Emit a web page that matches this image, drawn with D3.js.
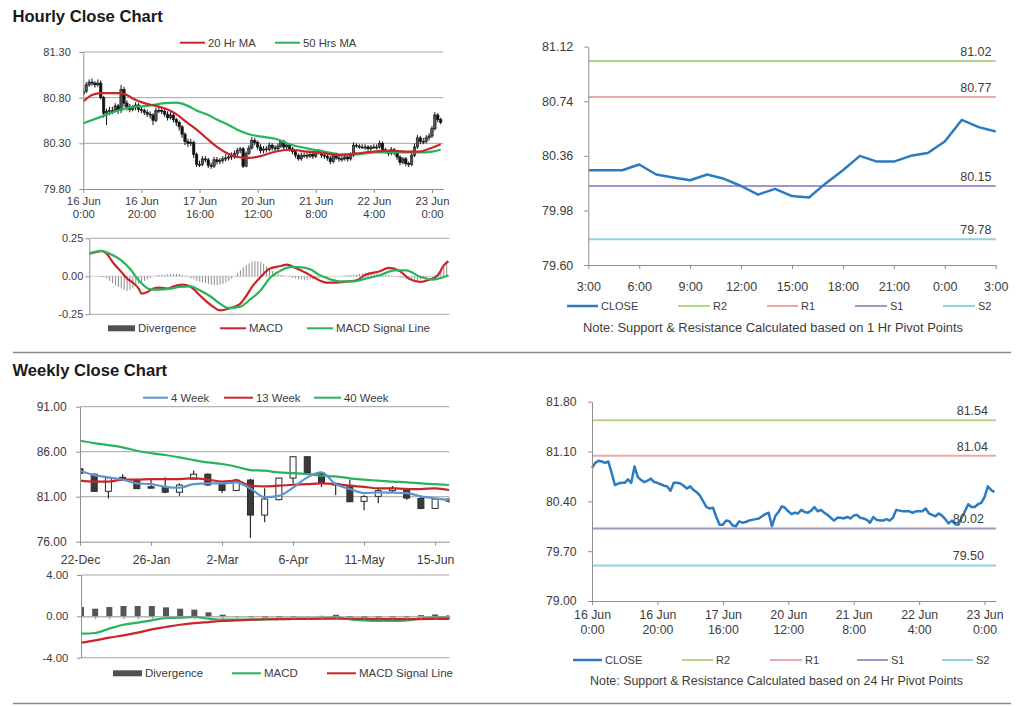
<!DOCTYPE html>
<html><head><meta charset="utf-8">
<script src="https://cdn.jsdelivr.net/npm/d3@7"></script>
<style>body{margin:0;background:#fff}svg{font-family:"Liberation Sans",Arial,sans-serif;display:block}</style>
</head><body><svg id="c" width="1024" height="706"></svg>
<script>
// ---------------- DATA ----------------
const hourlyOpen = [80.84,80.87,80.94,80.97,80.96,80.94,80.96,80.80,80.63,80.65,
80.66,80.66,80.71,80.66,80.89,80.74,80.70,80.67,80.69,80.72,
80.67,80.66,80.64,80.62,80.61,80.55,80.66,80.66,80.65,80.62,
80.58,80.61,80.56,80.53,80.48,80.40,80.32,80.30,80.31,80.18,
80.07,80.07,80.13,80.12,80.06,80.05,80.12,80.10,80.11,80.13,
80.14,80.15,80.16,80.19,80.22,80.24,80.05,80.19,80.25,80.33,
80.31,80.26,80.22,80.24,80.23,80.28,80.25,80.24,80.27,80.32,
80.26,80.28,80.24,80.21,80.17,80.13,80.17,80.17,80.16,80.18,
80.16,80.20,80.21,80.17,80.16,80.14,80.10,80.18,80.14,80.13,
80.13,80.15,80.13,80.17,80.28,80.27,80.26,80.26,80.26,80.24,
80.26,80.26,80.26,80.30,80.23,80.21,80.19,80.23,80.20,80.15,
80.09,80.13,80.08,80.07,80.17,80.26,80.36,80.32,80.32,80.36,
80.38,80.46,80.61,80.56];
const hourlyHigh = [80.90,80.97,81.00,81.01,80.98,81.00,80.99,80.82,80.68,80.70,
80.70,80.74,80.73,80.94,80.92,80.77,80.73,80.72,80.75,80.74,
80.70,80.68,80.67,80.65,80.63,80.69,80.70,80.69,80.68,80.65,
80.64,80.63,80.58,80.55,80.50,80.42,80.35,80.35,80.33,80.20,
80.11,80.16,80.16,80.14,80.09,80.15,80.15,80.14,80.16,80.18,
80.18,80.20,80.22,80.25,80.26,80.26,80.21,80.28,80.37,80.36,
80.33,80.29,80.27,80.27,80.31,80.30,80.28,80.30,80.34,80.34,
80.31,80.30,80.26,80.23,80.19,80.20,80.20,80.20,80.21,80.20,
80.23,80.24,80.23,80.20,80.18,80.16,80.20,80.20,80.17,80.16,
80.18,80.17,80.20,80.31,80.30,80.29,80.29,80.29,80.28,80.28,
80.29,80.29,80.33,80.32,80.25,80.23,80.26,80.25,80.22,80.17,
80.15,80.15,80.10,80.20,80.30,80.39,80.38,80.36,80.39,80.41,
80.49,80.64,80.63,80.58];
const hourlyLow = [80.82,80.85,80.92,80.93,80.91,80.92,80.78,80.58,80.50,80.61,
80.62,80.64,80.62,80.63,80.70,80.66,80.64,80.65,80.66,80.64,
80.63,80.61,80.59,80.57,80.50,80.53,80.63,80.62,80.59,80.55,
80.56,80.53,80.49,80.44,80.36,80.28,80.26,80.27,80.14,80.04,
80.04,80.05,80.09,80.03,80.02,80.03,80.07,80.07,80.08,80.10,
80.11,80.12,80.13,80.16,80.19,80.03,80.04,80.17,80.23,80.28,
80.23,80.19,80.19,80.20,80.21,80.22,80.21,80.22,80.25,80.23,
80.24,80.21,80.18,80.14,80.11,80.11,80.14,80.13,80.14,80.13,
80.14,80.18,80.14,80.13,80.11,80.07,80.08,80.12,80.10,80.10,
80.11,80.10,80.11,80.15,80.25,80.24,80.24,80.23,80.22,80.22,
80.24,80.23,80.24,80.21,80.19,80.16,80.17,80.17,80.12,80.06,
80.07,80.05,80.04,80.05,80.15,80.24,80.29,80.29,80.30,80.33,
80.36,80.44,80.53,80.51];
const hourlyClose = [80.87,80.94,80.97,80.96,80.94,80.96,80.80,80.63,80.65,80.66,
80.66,80.71,80.66,80.89,80.74,80.70,80.67,80.69,80.72,80.67,
80.66,80.64,80.62,80.61,80.55,80.66,80.66,80.65,80.62,80.58,
80.61,80.56,80.53,80.48,80.40,80.32,80.30,80.31,80.18,80.07,
80.07,80.13,80.12,80.06,80.05,80.12,80.10,80.11,80.13,80.14,
80.15,80.16,80.19,80.22,80.24,80.05,80.19,80.25,80.33,80.31,
80.26,80.22,80.24,80.23,80.28,80.25,80.24,80.27,80.32,80.26,
80.28,80.24,80.21,80.17,80.13,80.17,80.17,80.16,80.18,80.16,
80.20,80.21,80.17,80.16,80.14,80.10,80.18,80.14,80.13,80.13,
80.15,80.13,80.17,80.28,80.27,80.26,80.26,80.26,80.24,80.26,
80.26,80.26,80.30,80.23,80.21,80.19,80.23,80.20,80.15,80.09,
80.13,80.08,80.07,80.17,80.26,80.36,80.32,80.32,80.36,80.38,
80.46,80.61,80.56,80.53];
// moving averages read at [hour index, value]
const ma20Hr = [[0,80.76],[3,80.83],[6,80.85],[10,80.85],[13,80.85],[15,80.83],[17,80.79],[21,80.74],[25,80.71],[29,80.67],[32,80.62],[36,80.52],[39,80.45],[43,80.34],[46,80.26],[49,80.20],[53,80.15],[57,80.14],[61,80.16],[65,80.20],[71,80.23],[77,80.21],[83,80.19],[88,80.17],[94,80.19],[100,80.21],[106,80.22],[111,80.21],[116,80.21],[119,80.24],[123,80.29]];
const ma50Hr = [[0,80.52],[6,80.59],[12,80.66],[17,80.70],[22,80.71],[28,80.74],[32,80.745],[36,80.71],[39,80.66],[43,80.61],[46,80.56],[50,80.50],[53,80.45],[57,80.40],[62,80.37],[66,80.35],[71,80.29],[77,80.245],[83,80.21],[88,80.18],[94,80.18],[100,80.20],[106,80.20],[111,80.20],[116,80.20],[120,80.21],[123,80.23]];
const hourlyMacd = [[0,0.149],[3,0.162],[4,0.167],[6,0.149],[8,0.094],[11,0.029],[13,-0.015],[15,-0.042],[17,-0.081],[18,-0.114],[20,-0.103],[22,-0.081],[24,-0.075],[27,-0.081],[29,-0.066],[32,-0.055],[35,-0.070],[38,-0.125],[42,-0.191],[45,-0.224],[48,-0.213],[50,-0.200],[52,-0.180],[54,-0.130],[56,-0.070],[59,-0.004],[62,0.050],[66,0.068],[68,0.077],[71,0.055],[75,0.018],[78,-0.015],[82,-0.042],[85,-0.042],[89,-0.033],[92,-0.026],[95,0.011],[100,0.033],[103,0.055],[107,0.033],[110,-0.015],[114,-0.037],[117,-0.022],[120,0.007],[122,0.072],[123.6,0.099]];
const hourlySignal = [[0,0.149],[4,0.167],[7,0.149],[11,0.105],[14,0.050],[17,-0.026],[21,-0.086],[24,-0.088],[28,-0.081],[31,-0.070],[35,-0.066],[38,-0.092],[42,-0.136],[45,-0.180],[48,-0.208],[52,-0.200],[55,-0.158],[59,-0.092],[62,-0.015],[66,0.039],[69,0.061],[72,0.061],[76,0.046],[79,0.011],[83,-0.020],[86,-0.033],[91,-0.033],[95,-0.015],[100,0.007],[105,0.039],[109,0.039],[114,-0.004],[118,-0.022],[123.6,0.007]];
const hourlyDivergence = [0.000,0.000,0.000,-0.003,-0.005,-0.008,-0.015,-0.030,-0.045,-0.060,
-0.070,-0.080,-0.090,-0.095,-0.090,-0.080,-0.065,-0.050,-0.040,-0.030,
-0.020,-0.010,0.000,0.005,0.010,0.010,0.010,0.015,0.015,0.015,
0.015,0.015,0.010,0.005,-0.005,-0.015,-0.020,-0.030,-0.035,-0.040,
-0.045,-0.050,-0.055,-0.058,-0.058,-0.055,-0.050,-0.040,-0.030,-0.015,
0.000,0.020,0.040,0.060,0.075,0.085,0.095,0.100,0.100,0.095,
0.080,0.065,0.050,0.035,0.025,0.015,0.010,0.005,0.000,-0.005,
-0.010,-0.015,-0.020,-0.020,-0.025,-0.025,-0.020,-0.020,-0.015,-0.010,
-0.008,-0.005,-0.003,0.000,0.000,0.000,0.000,0.002,0.004,0.006,
0.008,0.010,0.012,0.015,0.018,0.020,0.022,0.022,0.020,0.020,
0.018,0.015,0.012,0.008,0.004,0.000,-0.005,-0.010,-0.015,-0.020,
-0.025,-0.030,-0.030,-0.025,-0.020,-0.015,-0.010,-0.005,0.000,0.010,
0.025,0.040,0.060,0.080];
const hourTickIdx = [0,20,40,60,80,100,120];
const hourTickLabels = [["16 Jun","0:00"],["16 Jun","20:00"],["17 Jun","16:00"],["20 Jun","12:00"],["21 Jun","8:00"],["22 Jun","4:00"],["23 Jun","0:00"]];
const hourlyYTicks = [79.80,80.30,80.80,81.30];
const macdYTicks = [-0.25,0,0.25];
const recentStart = 99; // 22 Jun 3:00
const recentTickLabels = ["3:00","6:00","9:00","12:00","15:00","18:00","21:00","0:00","3:00"];
const recentYTicks = [79.60,79.98,80.36,80.74,81.12];
const dayYTicks = [79.00,79.70,80.40,81.10,81.80];
const pivotNames = ["R2","R1","S1","S2"];
const pivot1Hr = [81.02,80.77,80.15,79.78];
const pivot24Hr = [81.54,81.04,80.02,79.50];

const weekTickLabels = ["22-Dec","26-Jan","2-Mar","6-Apr","11-May","15-Jun"];
const weekOpen  = [84.10,83.50,81.60,83.15,82.80,82.10,82.10,81.50,82.96,83.50,82.40,81.70,82.85,78.96,80.67,83.07,85.44,83.63,82.48,82.15,80.48,81.04,81.67,81.85,80.80,79.70,80.74];
const weekHigh  = [84.20,83.60,83.20,83.50,83.00,82.85,83.15,82.50,83.90,83.60,82.50,83.00,83.00,81.93,83.10,85.50,85.50,83.70,82.55,82.90,81.20,81.85,82.20,82.00,81.10,80.80,80.90];
const weekLow   = [83.60,81.55,80.80,82.75,81.85,81.90,81.37,81.10,82.90,82.20,81.40,81.60,76.40,78.15,80.60,82.48,83.50,82.04,81.19,80.40,79.50,80.26,81.50,80.67,79.60,79.70,80.30];
const weekClose = [83.60,81.60,83.10,82.80,81.90,81.95,81.50,82.30,83.50,82.30,81.70,82.85,78.96,80.74,83.07,85.44,83.63,82.48,82.30,80.44,81.00,81.67,81.96,80.85,79.70,80.74,80.50];
const ma4Week  = [83.89,83.40,83.15,82.90,82.48,82.40,82.10,82.00,82.40,82.48,82.48,82.60,81.90,80.95,81.10,82.00,83.15,83.70,82.40,81.85,81.40,81.48,81.45,81.40,81.04,80.81,80.63];
const ma13Week = [82.78,82.67,82.67,82.90,82.90,82.96,82.96,82.96,83.04,82.90,82.67,82.78,82.22,82.15,82.22,82.33,82.40,82.48,82.40,82.22,82.10,81.93,81.93,81.85,81.85,81.93,81.74];
const ma40Week = [87.22,86.96,86.74,86.48,86.11,85.85,85.63,85.37,85.07,84.81,84.63,84.33,83.96,83.89,83.70,83.63,83.52,83.33,83.26,83.04,82.90,82.78,82.67,82.60,82.48,82.40,82.30];
const weekYTicks = [76,81,86,91];
const weekMacdYTicks = [-4,0,4];
const weekDivergence = [0.90,0.74,0.90,1.00,1.00,1.00,0.87,0.74,0.65,0.39,0.16,0.03,-0.05,-0.10,-0.10,-0.05,0.00,0.05,0.15,-0.10,-0.12,-0.12,-0.10,-0.08,0.12,0.18,0.10];
const weekMacd   = [-1.68,-1.61,-1.19,-0.81,-0.61,-0.39,-0.16,-0.13,-0.06,-0.23,-0.32,-0.32,-0.32,-0.30,-0.28,-0.25,-0.22,-0.20,-0.10,-0.30,-0.40,-0.45,-0.45,-0.40,-0.20,-0.10,-0.10];
const weekSignal = [-2.55,-2.32,-2.06,-1.84,-1.58,-1.26,-1.03,-0.81,-0.65,-0.55,-0.45,-0.39,-0.32,-0.28,-0.26,-0.25,-0.24,-0.23,-0.23,-0.23,-0.25,-0.26,-0.27,-0.27,-0.26,-0.25,-0.24];

// ---------------- STYLE ----------------
const TXT="#3c3c3c", AX="#8f8f8f", GRID="#a3a3a3";
const RED="#c8262b", GREEN="#27b45b", BLUE="#2a7bc0", WBLUE="#5f94cf";
const pivotColors=["#b5d48c","#eaa9a9","#a793c6","#92d0e2"];
const svg=d3.select("#c");
const defs=svg.append("defs");
function clip(id,x0,y0,x1,y1){defs.append("clipPath").attr("id",id).append("rect").attr("x",x0).attr("y",y0).attr("width",x1-x0).attr("height",y1-y0);}

function styleAxis(g,fs){
  g.attr("font-family",null).attr("font-size",null);
  g.select(".domain").attr("stroke",AX);
  g.selectAll(".tick line").attr("stroke",AX);
  g.selectAll(".tick text").attr("fill",TXT).style("font-size",fs+"px");
}
function yAxis(x0,y,ticks,fmt,pad,fs){
  const g=svg.append("g").attr("transform",`translate(${x0},0)`)
    .call(d3.axisLeft(y).tickValues(ticks).tickFormat(fmt).tickSize(4).tickSizeOuter(0).tickPadding(pad));
  styleAxis(g,fs);return g;
}
function xAxis(y0,x,ticks,labels,pad,fs,lh){
  const g=svg.append("g").attr("transform",`translate(0,${y0})`)
    .call(d3.axisBottom(x).tickValues(ticks).tickFormat(()=>"").tickSize(4).tickSizeOuter(0).tickPadding(pad));
  styleAxis(g,fs);
  g.selectAll(".tick text").each(function(d,i){
    const t=d3.select(this), lab=labels[i];
    if(Array.isArray(lab)){
      t.append("tspan").attr("x",0).attr("dy","0em").text(lab[0]);
      t.append("tspan").attr("x",0).attr("dy",lh+"em").text(lab[1]);
    } else t.text(lab);
  });
  return g;
}
function grid(x1,x2,y,ticks){
  svg.append("g").selectAll("line").data(ticks).join("line")
   .attr("x1",x1).attr("x2",x2).attr("y1",d=>y(d)).attr("y2",d=>y(d)).attr("stroke",GRID).attr("stroke-width",1);
}
function legLine(x1,x2,y,color,w,label,fs){
  svg.append("line").attr("x1",x1).attr("x2",x2).attr("y1",y).attr("y2",y).attr("stroke",color).attr("stroke-width",w);
  svg.append("text").attr("x",x2+3).attr("y",y).attr("dy","0.35em").attr("fill",TXT).style("font-size",fs+"px").text(label);
}
function legBar(x1,x2,y,label,fs){
  svg.append("rect").attr("x",x1).attr("y",y-3).attr("width",x2-x1).attr("height",6).attr("fill","#505050");
  svg.append("text").attr("x",x2+3).attr("y",y).attr("dy","0.35em").attr("fill",TXT).style("font-size",fs+"px").text(label);
}
const f2=d=>(+d).toFixed(2);

// ---------------- TITLES / SEPARATORS ----------------
svg.append("text").attr("x",12.5).attr("y",21.5).attr("font-weight","bold").style("font-size","16.6px").attr("fill","#1a1a1a").text("Hourly Close Chart");
svg.append("text").attr("x",12.5).attr("y",375.5).attr("font-weight","bold").style("font-size","16.6px").attr("fill","#1a1a1a").text("Weekly Close Chart");
svg.append("line").attr("x1",13).attr("x2",1011).attr("y1",352.5).attr("y2",352.5).attr("stroke","#8a8a8a").attr("stroke-width",1.5);
svg.append("line").attr("x1",13).attr("x2",1011).attr("y1",703.5).attr("y2",703.5).attr("stroke","#8a8a8a").attr("stroke-width",1.5);

// ---------------- PANEL A: hourly candles ----------------
const xA=d3.scaleLinear().domain([0,123.9]).range([83.3,443.3]);
const yA=d3.scaleLinear().domain([79.8,81.3]).range([189,52]);
grid(83.3,443.3,yA,hourlyYTicks.slice(1));
clip("clipA",83.3,52,443.3,189);
const gA=svg.append("g").attr("clip-path","url(#clipA)");
const hIdx=d3.range(hourlyClose.length);
gA.selectAll("line.w").data(hIdx).join("line").attr("class","w")
  .attr("x1",i=>xA(i)).attr("x2",i=>xA(i)).attr("y1",i=>yA(hourlyHigh[i])).attr("y2",i=>yA(hourlyLow[i]))
  .attr("stroke","#111").attr("stroke-width",1);
gA.selectAll("rect.b").data(hIdx).join("rect").attr("class","b")
  .attr("x",i=>xA(i)-1.2).attr("width",2.4)
  .attr("y",i=>yA(Math.max(hourlyOpen[i],hourlyClose[i])))
  .attr("height",i=>Math.max(1,Math.abs(yA(hourlyOpen[i])-yA(hourlyClose[i]))))
  .attr("fill",i=>hourlyClose[i]>=hourlyOpen[i]?"#555":"#111").attr("stroke","#111").attr("stroke-width",0.6);
const lineA=d3.line().x(d=>xA(d[0])).y(d=>yA(d[1])).curve(d3.curveMonotoneX);
gA.append("path").attr("d",lineA(ma50Hr)).attr("fill","none").attr("stroke",GREEN).attr("stroke-width",2.2);
gA.append("path").attr("d",lineA(ma20Hr)).attr("fill","none").attr("stroke",RED).attr("stroke-width",2.2);
yAxis(83.3,yA,hourlyYTicks,f2,8.5,11);
xAxis(189,xA,hourTickIdx,hourTickLabels,12,11.3,1.12);
legLine(180,205,42.7,RED,2,"20 Hr MA",11.3);
legLine(275,300,42.7,GREEN,2,"50 Hrs MA",11.3);

// ---------------- PANEL B: hourly MACD ----------------
const xB=d3.scaleLinear().domain([0,123.9]).range([89.3,449.3]);
const yB=d3.scaleLinear().domain([-0.25,0.25]).range([314.3,238.3]);
grid(89.3,449.3,yB,[0.25,-0.25]);
svg.append("line").attr("x1",89.3).attr("x2",449.3).attr("y1",yB(0)).attr("y2",yB(0)).attr("stroke","#c8c8c8").attr("stroke-width",0.8);
clip("clipB",89.3,238,449.3,315);
const gB=svg.append("g").attr("clip-path","url(#clipB)");
gB.selectAll("line").data(hourlyDivergence).join("line")
  .attr("x1",(d,i)=>xB(i)).attr("x2",(d,i)=>xB(i)).attr("y1",yB(0)).attr("y2",d=>yB(d))
  .attr("stroke","#8c8c8c").attr("stroke-width",1);
const lineB=d3.line().x(d=>xB(d[0])).y(d=>yB(d[1])).curve(d3.curveMonotoneX);
gB.append("path").attr("d",lineB(hourlyMacd)).attr("fill","none").attr("stroke",RED).attr("stroke-width",2.2);
gB.append("path").attr("d",lineB(hourlySignal)).attr("fill","none").attr("stroke",GREEN).attr("stroke-width",2.2);
yAxis(89.3,yB,macdYTicks,f2,2,11);
legBar(108,135,328.3,"Divergence",11.5);
legLine(220,246,328.3,RED,2,"MACD",11.5);
legLine(307,333,328.3,GREEN,2,"MACD Signal Line",11.5);

// ---------------- PANEL C: last 24 hours close + 1hr pivots ----------------
const recent=hourlyClose.slice(recentStart);
const xC=d3.scaleLinear().domain([0,24]).range([588.3,995.7]);
const yC=d3.scaleLinear().domain([79.60,81.12]).range([265,46.7]);
pivot1Hr.forEach((p,k)=>{
  svg.append("line").attr("x1",588.3).attr("x2",995.7).attr("y1",yC(p)).attr("y2",yC(p)).attr("stroke",pivotColors[k]).attr("stroke-width",2);
  svg.append("text").attr("x",991.5).attr("y",yC(p)-5).attr("text-anchor","end").attr("fill",TXT).style("font-size","12.5px").text(f2(p));
});
svg.append("path").attr("d",d3.line().x((d,i)=>xC(i)).y(d=>yC(d))(recent)).attr("fill","none").attr("stroke",BLUE).attr("stroke-width",2.5).attr("stroke-linejoin","round");
yAxis(588.3,yC,recentYTicks,f2,11,12.5);
xAxis(265,xC,d3.range(0,25,3),recentTickLabels,13.5,12.5,1.2);
const legC=[[567,598,"CLOSE",BLUE,2.5]].concat(pivotNames.map((n,k)=>[[678,767,855,943][k],[710,798,887,975][k],n,pivotColors[k],2]));
legC.forEach(l=>legLine(l[0],l[1],306,l[3],l[4],l[2],11));
svg.append("text").attr("x",583).attr("y",328).attr("dy","0.35em").attr("fill",TXT).style("font-size","12px")
  .attr("textLength",380).attr("lengthAdjust","spacingAndGlyphs").text("Note: Support & Resistance Calculated based on 1 Hr Pivot Points");

// ---------------- PANEL D: weekly candles ----------------
const xD=d3.scaleLinear().domain([0,26]).range([80,449.3]);
const yD=d3.scaleLinear().domain([76,91]).range([541.7,406.7]);
grid(80,449.3,yD,weekYTicks.slice(1));
clip("clipD",80,406,449.3,541.7);
const gD=svg.append("g").attr("clip-path","url(#clipD)");
const wIdx=d3.range(weekClose.length);
gD.selectAll("line.w").data(wIdx).join("line").attr("class","w")
  .attr("x1",i=>xD(i)).attr("x2",i=>xD(i)).attr("y1",i=>yD(weekHigh[i])).attr("y2",i=>yD(weekLow[i]))
  .attr("stroke","#2a2a2a").attr("stroke-width",1.2);
gD.selectAll("rect.b").data(wIdx).join("rect").attr("class","b")
  .attr("x",i=>xD(i)-3).attr("width",6)
  .attr("y",i=>yD(Math.max(weekOpen[i],weekClose[i])))
  .attr("height",i=>Math.max(1,Math.abs(yD(weekOpen[i])-yD(weekClose[i]))))
  .attr("fill",i=>weekClose[i]>=weekOpen[i]?"#fff":"#3a3a3a").attr("stroke","#2a2a2a").attr("stroke-width",1);
const lineD=d3.line().x((d,i)=>xD(i)).y(d=>yD(d)).curve(d3.curveMonotoneX);
gD.append("path").attr("d",lineD(ma40Week)).attr("fill","none").attr("stroke",GREEN).attr("stroke-width",2.2);
gD.append("path").attr("d",lineD(ma13Week)).attr("fill","none").attr("stroke",RED).attr("stroke-width",2.2);
gD.append("path").attr("d",lineD(ma4Week)).attr("fill","none").attr("stroke",WBLUE).attr("stroke-width",2.2);
yAxis(80,yD,weekYTicks,f2,9.3,12);
xAxis(541.7,xD,d3.range(0,26,5),weekTickLabels,10,12.3,1.2);
legLine(143,168,397.7,WBLUE,2,"4 Week",11.3);
legLine(224,253,397.7,RED,2,"13 Week",11.3);
legLine(314,341,397.7,GREEN,2,"40 Week",11.3);

// ---------------- PANEL E: weekly MACD ----------------
const xE=d3.scaleLinear().domain([0,26]).range([81,449.3]);
const yE=d3.scaleLinear().domain([-4,4]).range([657.7,575]);
grid(81,449.3,yE,[4,-4]);
clip("clipE",81,574,449.3,658);
const gE=svg.append("g").attr("clip-path","url(#clipE)");
gE.selectAll("rect").data(weekDivergence).join("rect")
  .attr("x",(d,i)=>xE(i)-3).attr("width",6).attr("y",d=>Math.min(yE(d),yE(0))).attr("height",d=>Math.abs(yE(d)-yE(0)))
  .attr("fill","#555");
svg.append("g").attr("transform",`translate(0,${yE(0)})`).call(g=>{
  g.call(d3.axisBottom(xE).tickValues(d3.range(0,27,1)).tickFormat("").tickSize(3).tickSizeOuter(0));
  styleAxis(g,10);
});
const lineE=d3.line().x((d,i)=>xE(i)).y(d=>yE(d)).curve(d3.curveMonotoneX);
gE.append("path").attr("d",lineE(weekMacd)).attr("fill","none").attr("stroke",GREEN).attr("stroke-width",2.2);
gE.append("path").attr("d",lineE(weekSignal)).attr("fill","none").attr("stroke",RED).attr("stroke-width",2.2);
yAxis(81,yE,weekMacdYTicks,f2,8.7,11.3);
legBar(113,142,673.3,"Divergence",11.5);
legLine(232,261,673.3,GREEN,2,"MACD",11.5);
legLine(327,356,673.3,RED,2,"MACD Signal Line",11.5);

// ---------------- PANEL F: hourly close + 24hr pivots ----------------
const xF=d3.scaleLinear().domain([0,123.5]).range([592,996]);
const yF=d3.scaleLinear().domain([79,81.8]).range([601,401.7]);
pivot24Hr.forEach((p,k)=>{
  svg.append("line").attr("x1",592).attr("x2",996).attr("y1",yF(p)).attr("y2",yF(p)).attr("stroke",pivotColors[k]).attr("stroke-width",2);
});
svg.append("path").attr("d",d3.line().x((d,i)=>xF(i)).y(d=>yF(d))(hourlyClose)).attr("fill","none").attr("stroke",BLUE).attr("stroke-width",2.5).attr("stroke-linejoin","round");
pivot24Hr.forEach((p,k)=>{
  svg.append("text").attr("x",[988,988,984,984][k]).attr("y",yF(p)-5).attr("text-anchor","end").attr("fill",TXT).style("font-size","12.5px").text(f2(p));
});
yAxis(592,yF,dayYTicks,f2,11.3,12.3);
xAxis(601,xF,hourTickIdx,hourTickLabels,14,12.3,1.22);
const legF=[[573,602,"CLOSE",BLUE,2.5]].concat(pivotNames.map((n,k)=>[[682,770,857,942][k],[713,802,888,973][k],n,pivotColors[k],2]));
legF.forEach(l=>legLine(l[0],l[1],660,l[3],l[4],l[2],11));
svg.append("text").attr("x",590).attr("y",681).attr("dy","0.35em").attr("fill",TXT).style("font-size","12px")
  .attr("textLength",373).attr("lengthAdjust","spacingAndGlyphs").text("Note: Support & Resistance Calculated based on 24 Hr Pivot Points");
</script></body></html>
